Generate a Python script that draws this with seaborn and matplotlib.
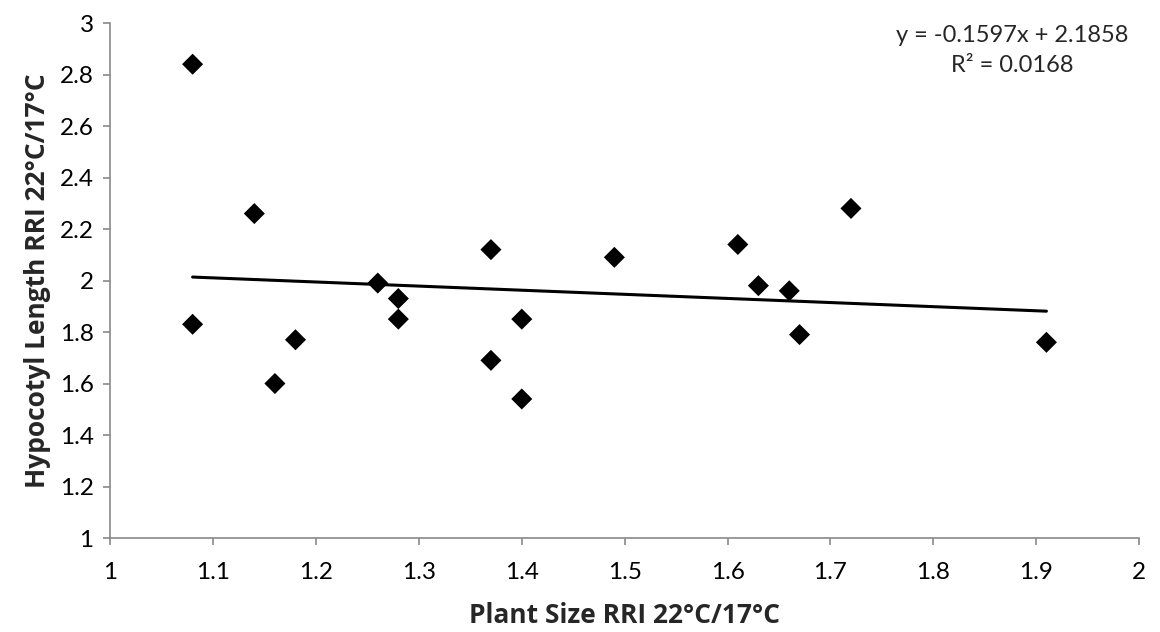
import numpy as np
import pandas as pd
import matplotlib
matplotlib.use("Agg")
import matplotlib.pyplot as plt
import seaborn as sns

# ---- data ----
plant_size_rri = [1.08, 1.08, 1.14, 1.16, 1.18, 1.26, 1.28, 1.28, 1.37, 1.37,
                  1.40, 1.40, 1.49, 1.61, 1.63, 1.66, 1.67, 1.72, 1.91]
hypocotyl_rri = [2.84, 1.83, 2.26, 1.60, 1.77, 1.99, 1.93, 1.85, 2.12, 1.69,
                 1.85, 1.54, 2.09, 2.14, 1.98, 1.96, 1.79, 2.28, 1.76]

x_ticks = [1, 1.1, 1.2, 1.3, 1.4, 1.5, 1.6, 1.7, 1.8, 1.9, 2]
y_ticks = [1, 1.2, 1.4, 1.6, 1.8, 2, 2.2, 2.4, 2.6, 2.8, 3]

eq_text = "y = -0.1597x + 2.1858"
r2_text = "R² = 0.0168"

df = pd.DataFrame({"plant": plant_size_rri, "hypo": hypocotyl_rri})

sns.set_style("ticks")
plt.rcParams["font.family"] = ["Lato", "DejaVu Sans"]

axis_grey = "#898989"

fig = plt.figure(figsize=(11.6, 6.32), dpi=100)
ax = fig.add_axes([0.0951, 0.1487, 0.8868, 0.8149])

sns.regplot(
    data=df, x="plant", y="hypo", ax=ax, ci=None, truncate=True,
    marker="D",
    scatter_kws={"s": 115, "color": "black", "edgecolors": "none", "alpha": 1, "zorder": 3},
    line_kws={"color": "black", "linewidth": 2.2, "zorder": 2},
)

ax.set_xlim(1, 2)
ax.set_ylim(1, 3)
ax.set_xticks(x_ticks)
ax.set_yticks(y_ticks)
ax.set_xticklabels([f"{v:g}" for v in x_ticks])
ax.set_yticklabels([f"{v:g}" for v in y_ticks])
ax.tick_params(axis="both", colors=axis_grey, labelcolor="black",
               labelsize=17.5, length=5, width=1.2, direction="out")
ax.tick_params(axis="x", pad=12)
ax.tick_params(axis="y", pad=7)

for side in ["top", "right"]:
    ax.spines[side].set_visible(False)
for side in ["left", "bottom"]:
    ax.spines[side].set_color(axis_grey)
    ax.spines[side].set_linewidth(1.2)

label_font = {"family": ["Open Sans", "DejaVu Sans"], "weight": "bold", "size": 19}
ax.set_xlabel("Plant Size RRI 22°C/17°C", fontdict=label_font, labelpad=14)
ax.set_ylabel("Hypocotyl Length RRI 22°C/17°C", fontdict=label_font, labelpad=6)

ax.text(1012 / 1160, 1 - 35 / 632, eq_text, transform=fig.transFigure,
        ha="center", va="center", fontsize=17)
ax.text(1012 / 1160, 1 - 66 / 632, r2_text, transform=fig.transFigure,
        ha="center", va="center", fontsize=17)

fig.savefig("out.png", dpi=100)
